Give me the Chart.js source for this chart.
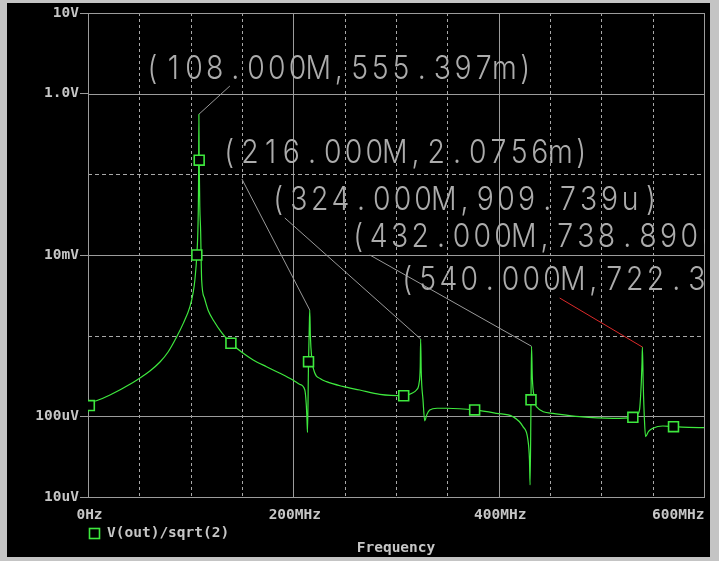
<!DOCTYPE html>
<html>
<head>
<meta charset="utf-8">
<script src="https://cdn.jsdelivr.net/npm/chart.js@4.4.1/dist/chart.umd.min.js"></script>
<style>
  html, body { margin: 0; padding: 0; width: 719px; height: 561px; overflow: hidden; background: #c4c4c4; }
  #frame { position: absolute; left: 7px; top: 3px; width: 703px; height: 554px; background: #000; }
  canvas { display: block; }
</style>
</head>
<body>
<div id="frame"><canvas id="plot" width="703" height="554"></canvas></div>
<script>
// AC sweep of V(out)/sqrt(2): frequency in MHz, magnitude in volts
const freqMHz = [
  0, 1.3, 8.8, 21.4, 43.8, 50.6, 60.3, 70.1, 78.0, 86.3, 92.8, 99.3, 102.5, 104.1, 106.0,
  107.2, 107.7, 108.0, 108.3, 108.9, 109.7, 110.7, 113.4, 117.3, 122.6, 130.4, 139.2,
  150.9, 160.9, 173.9, 187.0, 199.5, 206.0, 211.2, 212.6, 213.3, 213.8, 214.8, 215.5,
  216.0, 216.6, 217.8, 220.9, 226.0, 232.3, 248.0, 264.7, 284.2, 307.5, 316.0, 319.9,
  322.5, 323.6, 324.0, 324.6, 326.3, 328.0, 330.0, 332.8, 340.0, 349.1, 376.6, 397.8,
  413.9, 423.7, 428.5, 430.0, 430.6, 431.5, 432.0, 432.8, 434.5, 436.7, 452.9, 478.8,
  511.2, 530.7, 535.5, 537.2, 538.9, 539.6, 540.0, 540.8, 542.0, 543.1, 546.0, 550.2,
  559.9, 570.3, 585.0, 600.0
];
const voutV = [
  1.12e-4, 1.36e-4, 1.57e-4, 1.84e-4, 2.63e-4, 2.99e-4, 3.65e-4, 4.72e-4, 6.28e-4, 9.64e-4, 1.42e-3, 2.29e-3, 3.47e-3, 4.90e-3, 1.00e-2,
  2.50e-2, 8.00e-2, 0.555397, 0.150, 4.00e-2, 2.00e-2, 4.90e-3, 2.93e-3, 2.02e-3, 1.52e-3, 1.08e-3, 8.05e-4,
  6.10e-4, 5.00e-4, 4.12e-4, 3.42e-4, 2.82e-4, 2.50e-4, 2.12e-4, 1.40e-4, 9.00e-5, 6.30e-5, 4.76e-4, 1.20e-3,
  2.0756e-3, 1.00e-3, 5.50e-4, 3.44e-4, 2.95e-4, 2.69e-4, 2.35e-4, 2.12e-4, 1.875e-4, 1.80e-4, 1.95e-4, 2.12e-4,
  2.60e-4, 4.12e-4, 9.09739e-4, 3.50e-4, 1.60e-4, 8.80e-5, 1.05e-4, 1.20e-4, 1.26e-4, 1.26e-4, 1.20e-4, 1.09e-4,
  9.90e-5, 7.45e-5, 5.10e-5, 2.90e-5, 1.41e-5, 1.60e-4, 7.3889e-4, 3.00e-4, 1.75e-4, 1.32e-4, 1.09e-4, 9.90e-5,
  9.46e-5, 9.73e-5, 1.08e-4, 1.20e-4, 2.59e-4, 4.50e-4, 7.2235e-4, 2.50e-4, 9.00e-5, 5.60e-5, 6.50e-5, 7.11e-5,
  7.59e-5, 7.45e-5, 7.30e-5, 7.23e-5
];
// sweep points that carry the trace symbol
const markerFreqs = [1.3, 106.0, 108.3, 139.2, 214.8, 307.5, 376.6, 431.5, 530.7, 570.3];
// cursor readouts placed on the resonance peaks
const cursorFreqs = [108, 216, 324, 432, 540];

const xTickValues = [0, 200, 400, 600];
const xTickLabels = ['0Hz', '200MHz', '400MHz', '600MHz'];
const xMinorGrid = [50, 100, 150, 250, 300, 350, 450, 500, 550];
const yTickValues = [1e-5, 1e-4, 1e-3, 1e-2, 1e-1, 1, 10];
const yTickLabels = ['10uV', '100uV', '', '10mV', '', '1.0V', '10V'];
const yMinorGrid = [1e-3, 1e-1];
const traceName = 'V(out)/sqrt(2)';
const xTitle = 'Frequency';

// readout text anchors and leader-line starts, in plot units (MHz, V)
const calloutLayout = [
  { text: [52.8, 1.52],    lineFrom: [138.2, 1.245] },
  { text: [127.5, 0.138],  lineFrom: [149.9, 0.0875] },
  { text: [175.2, 0.0366], lineFrom: [191.7, 0.0288] },
  { text: [253.0, 0.01257], lineFrom: [274.5, 0.0100] },
  { text: [300.7, 3.68e-3], lineFrom: [459.4, 2.93e-3] }
];

const GREEN = '#3ee83e';
const GRID = '#9c9c9c';
const DASH = '#a8a8a8';
const LABEL = '#c6c6c6';
const READOUT = '#acacac';
const AXIS_FONT = 'bold 14.5px "DejaVu Sans Mono", monospace';
const READOUT_FONT = '300 33px Inter, "Open Sans", "DejaVu Sans", sans-serif';
const READOUT_PITCH = 20.7;
const READOUT_SQUEEZE = 0.86;

// engineering notation in the simulator's readout style
function eng(v) {
  const suffix = { 9: 'G', 6: 'M', 3: 'K', 0: '', '-3': 'm', '-6': 'u', '-9': 'n' };
  let e = Math.floor(Math.log10(Math.abs(v)) / 3) * 3;
  let m = v / Math.pow(10, e);
  if (m >= 999.9995) { e += 3; m /= 1000; }
  return m.toFixed(m < 10 ? 4 : 3) + suffix[e];
}

function hline(ctx, x0, x1, y) { ctx.beginPath(); ctx.moveTo(x0, y); ctx.lineTo(x1, y); ctx.stroke(); }
function vline(ctx, x, y0, y1) { ctx.beginPath(); ctx.moveTo(x, y0); ctx.lineTo(x, y1); ctx.stroke(); }

const plotFrame = {
  id: 'plotFrame',
  beforeDatasetsDraw(chart) {
    const { ctx, chartArea: a, scales: { x, y } } = chart;
    ctx.save();
    ctx.lineWidth = 1;
    // dotted minor grid
    ctx.strokeStyle = DASH;
    ctx.setLineDash([3, 3]);
    xMinorGrid.forEach(f => vline(ctx, Math.round(x.getPixelForValue(f)) + 0.5, a.top, a.bottom));
    ctx.setLineDash([4, 3]);
    yMinorGrid.forEach(v => hline(ctx, a.left, a.right, Math.round(y.getPixelForValue(v)) + 0.5));
    // solid major grid and frame
    ctx.setLineDash([]);
    ctx.strokeStyle = GRID;
    xTickValues.forEach(f => vline(ctx, Math.round(x.getPixelForValue(f)) + 0.5, a.top, a.bottom + 0.5));
    yTickValues.forEach((v, i) => {
      if (yTickLabels[i]) hline(ctx, a.left, a.right + 1, Math.round(y.getPixelForValue(v)) + 0.5);
    });
    ctx.restore();
  },
  afterDatasetsDraw(chart) {
    const { ctx, chartArea: a, scales: { x, y } } = chart;
    // cursor readouts
    ctx.save();
    ctx.beginPath();
    ctx.rect(a.left, a.top, a.right - a.left + 1, a.bottom - a.top);
    ctx.clip();
    cursorFreqs.forEach((f, k) => {
      const v = voutV[freqMHz.indexOf(f)];
      const L = calloutLayout[k];
      ctx.lineWidth = 1;
      ctx.strokeStyle = k === cursorFreqs.length - 1 ? '#dc2a2a' : '#9a9a9a';
      ctx.beginPath();
      ctx.moveTo(x.getPixelForValue(L.lineFrom[0]), y.getPixelForValue(L.lineFrom[1]));
      ctx.lineTo(x.getPixelForValue(f), y.getPixelForValue(v));
      ctx.stroke();
      const txt = '(' + eng(f * 1e6) + ',' + eng(v) + ')';
      const x0 = x.getPixelForValue(L.text[0]);
      const yb = y.getPixelForValue(L.text[1]);
      ctx.fillStyle = READOUT;
      ctx.font = READOUT_FONT;
      ctx.textAlign = 'center';
      ctx.textBaseline = 'alphabetic';
      [...txt].forEach((ch, i) => {
        ctx.save();
        ctx.translate(x0 + (i + 0.5) * READOUT_PITCH, yb);
        ctx.scale(READOUT_SQUEEZE, 1);
        ctx.fillText(ch, 0, 0);
        ctx.restore();
      });
    });
    ctx.restore();

    // x tick labels, axis title and legend
    ctx.save();
    ctx.fillStyle = LABEL;
    ctx.font = AXIS_FONT;
    ctx.textBaseline = 'middle';
    xTickValues.forEach((f, i) => {
      const last = i === xTickValues.length - 1;
      ctx.textAlign = last ? 'right' : 'center';
      ctx.fillText(xTickLabels[i], x.getPixelForValue(f) + (last ? 0.5 : 1.5), a.bottom + 18);
    });
    ctx.textAlign = 'center';
    ctx.fillText(xTitle, (a.left + a.right) / 2, a.bottom + 51);
    ctx.textAlign = 'left';
    ctx.fillText(traceName, a.left + 19, a.bottom + 36);
    ctx.strokeStyle = GREEN;
    ctx.lineWidth = 1.6;
    ctx.strokeRect(a.left + 1.5, a.bottom + 31.5, 10, 10);
    ctx.restore();
  }
};

new Chart(document.getElementById('plot'), {
  type: 'line',
  data: {
    datasets: [{
      label: traceName,
      data: freqMHz.map((f, i) => ({ x: f, y: voutV[i] })),
      borderColor: GREEN,
      borderWidth: 1.2,
      cubicInterpolationMode: 'monotone',
      pointStyle: 'rect',
      pointRadius: c => (c.raw && markerFreqs.includes(c.raw.x)) ? 7 : 0,
      pointHoverRadius: 0,
      pointBorderColor: GREEN,
      pointBackgroundColor: '#000',
      pointBorderWidth: 1.6
    }]
  },
  options: {
    responsive: false,
    animation: false,
    devicePixelRatio: 1,
    events: [],
    layout: { padding: { top: 10, right: 6, left: 0, bottom: 0 } },
    plugins: { legend: { display: false }, tooltip: { enabled: false } },
    scales: {
      x: {
        type: 'linear', min: 0, max: 600,
        afterBuildTicks: s => { s.ticks = xTickValues.map(v => ({ value: v })); },
        ticks: { display: false },
        grid: { display: false },
        border: { display: false },
        afterFit: s => { s.height = 60; }
      },
      y: {
        type: 'logarithmic', min: 1e-5, max: 10,
        afterBuildTicks: s => { s.ticks = yTickValues.map(v => ({ value: v })); },
        ticks: {
          callback: (v, i) => yTickLabels[i],
          color: LABEL,
          font: { family: '"DejaVu Sans Mono", monospace', size: 14.5, weight: 'bold' },
          padding: 1,
          autoSkip: false,
          maxRotation: 0
        },
        grid: {
          drawOnChartArea: false,
          drawTicks: true,
          tickLength: 8,
          color: 'rgba(0,0,0,0)',
          tickColor: c => yTickLabels[c.index] ? GRID : 'rgba(0,0,0,0)'
        },
        border: { display: false },
        afterFit: s => { s.width = 81; }
      }
    }
  },
  plugins: [plotFrame]
});
</script>
</body>
</html>
